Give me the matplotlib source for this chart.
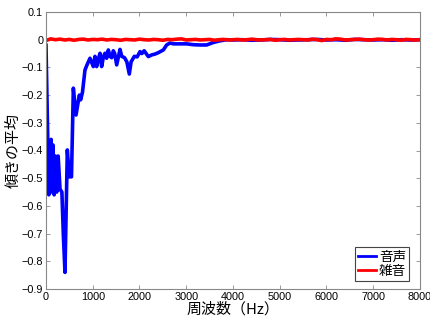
import matplotlib
matplotlib.use("Agg")
import matplotlib.pyplot as plt

# Speech (音声) mean slope
speech_freq = [0, 60, 110, 130, 150, 175, 200, 230, 260, 300, 340, 370, 406, 456, 499, 545, 585, 642,
               713, 741, 780,
               834, 880, 941, 1012, 1048, 1083, 1120, 1155, 1190, 1230, 1262, 1297, 1333, 1370, 1405, 1440,
               1470, 1512, 1583, 1620, 1680, 1730, 1782, 1820, 1890, 1950, 2011, 2050, 2100, 2189, 2260,
               2330, 2400, 2510, 2581, 2650, 2724, 2860, 3009, 3150, 3290, 3437, 3580, 3722, 3864,
               4000, 4200, 4400, 4600, 4800, 5000, 5200, 5400, 5600, 5800, 6000, 6200, 6400, 6600,
               6800, 7000, 7200, 7400, 7600, 7800, 8000]
speech_val = [-0.02, -0.56, -0.36, -0.55, -0.38, -0.56, -0.42, -0.55, -0.42, -0.54, -0.55, -0.7, -0.84,
              -0.398, -0.495, -0.495, -0.175, -0.272, -0.2, -0.217, -0.19,
              -0.109, -0.09, -0.067, -0.097, -0.06, -0.097, -0.07, -0.049, -0.097, -0.06,
              -0.049, -0.067, -0.037, -0.06, -0.065, -0.04, -0.05, -0.091, -0.035, -0.06, -0.065,
              -0.08, -0.124, -0.08, -0.06, -0.062, -0.043, -0.05, -0.04, -0.061, -0.055, -0.052,
              -0.047, -0.037, -0.019, -0.012, -0.015, -0.015, -0.015, -0.018, -0.019, -0.019,
              -0.01, -0.004, 0.0,
              -0.001, 0.0, -0.002, -0.001, 0.001, 0.0, -0.002, -0.001, 0.0, 0.001, -0.001, 0.0,
              -0.002, 0.001, 0.0, -0.001, 0.0, -0.002, 0.0, -0.001, 0.0]

# Noise (雑音) mean slope
noise_freq = [0, 100, 200, 300, 400, 500, 600, 700, 800, 900, 1000, 1100, 1200, 1300, 1400, 1500, 1600,
              1700, 1800, 1900, 2000, 2100, 2200, 2300, 2400, 2500, 2600, 2700, 2800, 2900, 3000, 3100,
              3200, 3300, 3400, 3500, 3600, 3700, 3800, 3900, 4000, 4100, 4200, 4300, 4400, 4500, 4600,
              4700, 4800, 4900, 5000, 5100, 5200, 5300, 5400, 5500, 5600, 5700, 5800, 5900, 6000, 6100,
              6200, 6300, 6400, 6500, 6600, 6700, 6800, 6900, 7000, 7100, 7200, 7300, 7400, 7500, 7600,
              7700, 7800, 7900, 8000]
noise_val = [-0.003, 0.003, 0.0, 0.002, -0.001, 0.001, -0.002, 0.001, 0.002, -0.001, 0.001, 0.0, 0.002,
             -0.001, 0.001, 0.0, -0.002, 0.001, 0.0, -0.001, 0.002, 0.0, -0.001, 0.001, 0.0, -0.002,
             0.001, 0.0, 0.002, 0.003, -0.001, 0.0, 0.001, -0.001, 0.0, 0.001, -0.002, 0.0, 0.001,
             -0.001, 0.0, 0.001, -0.001, 0.0, 0.002, 0.0, -0.001, 0.0, 0.001, -0.002, 0.0, 0.001,
             -0.001, 0.0, 0.001, 0.0, -0.001, 0.002, 0.0, -0.003, 0.001, 0.0, 0.003, 0.002, -0.001,
             0.0, 0.001, 0.002, 0.0, -0.001, 0.0, 0.002, 0.001, -0.001, 0.001, 0.0, -0.002, 0.001,
             0.0, -0.001, 0.0]

labels = ["音声", "雑音"]
xticks = [0, 1000, 2000, 3000, 4000, 5000, 6000, 7000, 8000]
yticks = [0.1, 0, -0.1, -0.2, -0.3, -0.4, -0.5, -0.6, -0.7, -0.8, -0.9]

plt.rcParams['font.family'] = ['Liberation Sans', 'Noto Sans CJK JP', 'DejaVu Sans']
cjk = ['Noto Sans CJK JP', 'DejaVu Sans']

fig = plt.figure(figsize=(4.31, 3.2), dpi=100)
ax = fig.add_axes([46/431, 1 - 289/320, (420-46)/431, (289-12)/320])

ax.plot(speech_freq, speech_val, color='#0000ff', lw=2.6, label=labels[0])
ax.plot(noise_freq, noise_val, color='#ff0000', lw=2.6, label=labels[1])

ax.set_xlim(0, 8000)
ax.set_ylim(-0.9, 0.1)
ax.set_xticks(xticks)
ax.set_xticklabels([str(t) for t in xticks])
ax.set_yticks(yticks)
ax.set_yticklabels(["0.1", "0"] + ["\u2212" + ("%.1f" % -t) for t in yticks[2:]])

ax.tick_params(direction='in', top=True, right=True, labelsize=7.8, length=3, width=0.6,
               color='#888888', pad=2)
for s in ax.spines.values():
    s.set_color('#888888')
    s.set_linewidth(0.8)

ax.set_xlabel("周波数（Hz）", fontsize=10.8, family=cjk, labelpad=0)
ax.set_ylabel("傾きの平均", fontsize=10.8, family=cjk, labelpad=1)

leg = ax.legend(loc='lower right', bbox_to_anchor=(0.9706, 0.029), borderaxespad=0,
                prop={'family': cjk, 'size': 9.8},
                fancybox=False, edgecolor='#444444', handlelength=1.3, handletextpad=0.25,
                borderpad=0.2, labelspacing=0.05, framealpha=1)
leg.get_frame().set_linewidth(0.8)
for h in leg.get_lines():
    h.set_linewidth(2.0)

fig.savefig("out.png", dpi=100)
